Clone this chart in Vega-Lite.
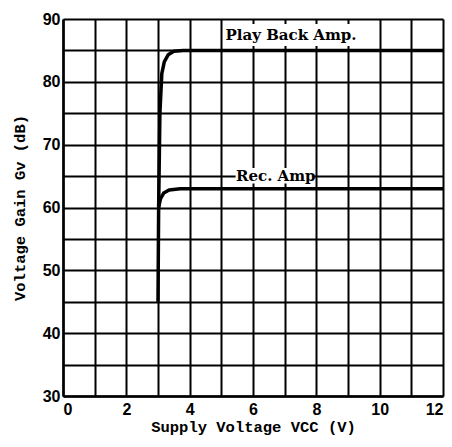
{
  "$schema": "https://vega.github.io/schema/vega-lite/v6.json",
  "width": 380,
  "height": 377,
  "autosize": {"type": "none"},
  "padding": {"left": 63, "top": 19, "right": 9, "bottom": 51},
  "background": "white",
  "config": {"view": {"stroke": null}},
  "datasets": {
    "curves": [
      {"series": "Play Back Amp.", "i": 0, "x": 3.0, "y": 45},
      {"series": "Play Back Amp.", "i": 1, "x": 3.02, "y": 60},
      {"series": "Play Back Amp.", "i": 2, "x": 3.06, "y": 75},
      {"series": "Play Back Amp.", "i": 3, "x": 3.12, "y": 81.3},
      {"series": "Play Back Amp.", "i": 4, "x": 3.2, "y": 83.2},
      {"series": "Play Back Amp.", "i": 5, "x": 3.32, "y": 84.3},
      {"series": "Play Back Amp.", "i": 6, "x": 3.5, "y": 84.85},
      {"series": "Play Back Amp.", "i": 7, "x": 3.8, "y": 85},
      {"series": "Play Back Amp.", "i": 8, "x": 12, "y": 85},
      {"series": "Rec. Amp", "i": 0, "x": 3.02, "y": 60},
      {"series": "Rec. Amp", "i": 1, "x": 3.08, "y": 61.4},
      {"series": "Rec. Amp", "i": 2, "x": 3.18, "y": 62.3},
      {"series": "Rec. Amp", "i": 3, "x": 3.35, "y": 62.8},
      {"series": "Rec. Amp", "i": 4, "x": 3.7, "y": 63},
      {"series": "Rec. Amp", "i": 5, "x": 12, "y": 63}
    ],
    "boxes": [
      {"x": 5.2, "x2": 9.7, "y": 85.7, "y2": 89.2},
      {"x": 5.45, "x2": 7.93, "y": 63.8, "y2": 66.3}
    ],
    "labels": [
      {"x": 7.2, "y": 87.5, "label": "Play Back Amp."},
      {"x": 6.72, "y": 65, "label": "Rec. Amp"}
    ]
  },
  "encoding": {
    "x": {
      "field": "x",
      "type": "quantitative",
      "scale": {"domain": [0, 12], "nice": false, "zero": false},
      "axis": {
        "values": [0, 1, 2, 3, 4, 5, 6, 7, 8, 9, 10, 11, 12],
        "labelExpr": "datum.value % 2 === 0 ? datum.label : ''",
        "grid": true,
        "gridColor": "black",
        "gridWidth": 2,
        "gridOpacity": 1,
        "domainColor": "black",
        "domainWidth": 2.5,
        "ticks": false,
        "labelFont": "Liberation Sans",
        "labelFontWeight": "bold",
        "labelFontSize": 16,
        "labelColor": "black",
        "labelPadding": 5,
        "title": "Supply Voltage  VCC (V)",
        "titleFont": "Liberation Mono",
        "titleFontWeight": "bold",
        "titleFontSize": 15.5,
        "titleColor": "black",
        "titlePadding": 2
      }
    },
    "y": {
      "field": "y",
      "type": "quantitative",
      "scale": {"domain": [30, 90], "nice": false, "zero": false},
      "axis": {
        "values": [30, 35, 40, 45, 50, 55, 60, 65, 70, 75, 80, 85, 90],
        "labelExpr": "datum.value % 10 === 0 ? datum.label : ''",
        "grid": true,
        "gridColor": "black",
        "gridWidth": 2,
        "gridOpacity": 1,
        "domainColor": "black",
        "domainWidth": 2.5,
        "ticks": false,
        "labelFont": "Liberation Sans",
        "labelFontWeight": "bold",
        "labelFontSize": 16,
        "labelColor": "black",
        "labelPadding": 3,
        "title": "Voltage Gain Gv (dB)",
        "titleFont": "Liberation Mono",
        "titleFontWeight": "bold",
        "titleFontSize": 15.5,
        "titleColor": "black",
        "titlePadding": 15
      }
    }
  },
  "layer": [
    {
      "data": {"name": "boxes"},
      "mark": {"type": "rect", "fill": "white", "stroke": null},
      "encoding": {
        "x2": {"field": "x2"},
        "y2": {"field": "y2"}
      }
    },
    {
      "data": {"name": "curves"},
      "mark": {"type": "line", "color": "black", "strokeWidth": 3.5, "strokeJoin": "round", "strokeCap": "butt"},
      "encoding": {
        "detail": {"field": "series", "type": "nominal"},
        "order": {"field": "i", "type": "quantitative"}
      }
    },
    {
      "data": {"name": "labels"},
      "mark": {"type": "text", "font": "DejaVu Serif", "fontWeight": "bold", "fontSize": 15, "color": "black", "align": "center", "baseline": "middle"},
      "encoding": {
        "text": {"field": "label", "type": "nominal"}
      }
    }
  ]
}
